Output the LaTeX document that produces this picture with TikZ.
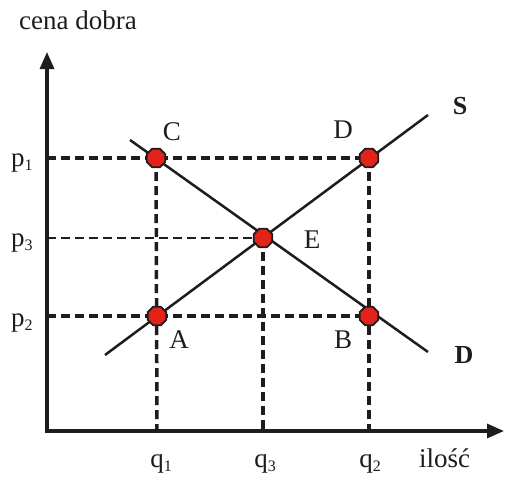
\documentclass[tikz,border=0pt]{standalone}
\usepackage{fontspec}
\setmainfont{Liberation Serif}
\usetikzlibrary{arrows.meta,shapes.geometric}
\definecolor{ptred}{RGB}{226,35,26}
\definecolor{ink}{RGB}{30,28,30}
\newcommand\lsub[1]{\raisebox{-0.35ex}{\fontsize{16}{16}\selectfont #1}}
\tikzset{
  axis/.style={line width=3.2pt,draw=ink,-{Triangle[length=17pt,width=14pt]}},
  curve/.style={line width=2.5pt,draw=ink},
  guide/.style={line width=3.5pt,draw=ink,dash pattern=on 9pt off 5pt},
  thinguide/.style={line width=1.5pt,draw=ink,dash pattern=on 9pt off 5pt},
  pt/.style={regular polygon,regular polygon sides=8,minimum size=20pt,inner sep=0pt,fill=ptred,draw=ink,line width=1.8pt},
  lbl/.style={font=\fontsize{27}{27}\selectfont,text=ink,inner sep=0pt}
}
\begin{document}
\begin{tikzpicture}[x=1pt,y=-1pt]
\useasboundingbox (0,0) rectangle (505,477);
\coordinate (O) at (47,431);
\coordinate (Ytip) at (47,52);
\coordinate (Xtip) at (504,431);
\coordinate (P1) at (47,158);
\coordinate (P3) at (47,238);
\coordinate (P2) at (47,316);
\coordinate (Q1) at (157,431);
\coordinate (Q3) at (263,431);
\coordinate (Q2) at (369,431);
\coordinate (C) at (156,158);
\coordinate (D) at (369,158);
\coordinate (E) at (263,238);
\coordinate (A) at (157,316);
\coordinate (B) at (369,316);
\coordinate (s1) at (105,355);
\coordinate (s2) at (428,115);
\coordinate (d1) at (130,140);
\coordinate (d2) at (428,352);
% guides
\draw[guide] (P1) -- (D);
\draw[guide] (P2) -- (B);
\draw[thinguide] (P3) -- (E);
\draw[guide] (C) -- (Q1);
\draw[guide] (E) -- (Q3);
\draw[guide] (D) -- (Q2);
% curves
\draw[curve] (s1) -- (s2);
\draw[curve] (d1) -- (d2);
% axes
\draw[axis] (O) -- (Ytip);
\draw[axis] ([xshift=-1.6pt]O) -- (Xtip);
% points
\node[pt] (nC) at (C) {};
\node[pt] (nD) at (D) {};
\node[pt] (nE) at (E) {};
\node[pt] (nA) at (A) {};
\node[pt] (nB) at (B) {};
% labels
\node[lbl] (lC) at (172,132) {C};
\node[lbl] (lD) at (343,130) {D};
\node[lbl] (lE) at (312,240) {E};
\node[lbl] (lA) at (179,340) {A};
\node[lbl] (lB) at (343,340) {B};
\node[lbl,font=\fontsize{26}{26}\selectfont\bfseries] (lS) at (460,106) {S};
\node[lbl,font=\fontsize{26}{26}\selectfont\bfseries] (lDD) at (464,355) {D};
\node[lbl,anchor=base west] (p1) at (11,166) {p\lsub{1}};
\node[lbl,anchor=base west] (p3) at (11,246) {p\lsub{3}};
\node[lbl,anchor=base west] (p2) at (11,326) {p\lsub{2}};
\node[lbl,anchor=base] (q1) at (161,467) {q\lsub{1}};
\node[lbl,anchor=base] (q3) at (265,467) {q\lsub{3}};
\node[lbl,anchor=base] (q2) at (370,467) {q\lsub{2}};
\node[lbl,anchor=base west] (il) at (419,467) {ilość};
\node[lbl,anchor=base west] (cd) at (19,29) {cena dobra};
\end{tikzpicture}
\end{document}
